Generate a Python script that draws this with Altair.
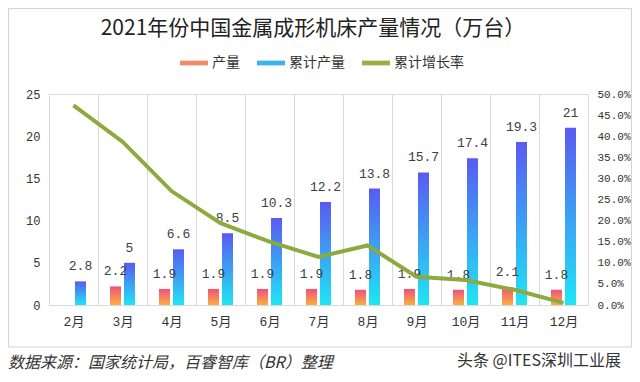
import altair as alt
import pandas as pd

# ---- data ----
months = ["2月", "3月", "4月", "5月", "6月", "7月", "8月", "9月", "10月", "11月", "12月"]
monthly = [None, 2.2, 1.9, 1.9, 1.9, 1.9, 1.8, 1.9, 1.8, 2.1, 1.8]          # 产量 (万台)
cumulative = [2.8, 5, 6.6, 8.5, 10.3, 12.2, 13.8, 15.7, 17.4, 19.3, 21]     # 累计产量 (万台)
growth = [0.473, 0.387, 0.270, 0.194, 0.150, 0.114, 0.141, 0.067, 0.059, 0.036, 0.005]  # 累计增长率
series_names = ["产量", "累计产量", "累计增长率"]
legend_colors = ["#F08A68", "#38B6EC", "#9AB044"]
left_ticks = [0, 5, 10, 15, 20, 25]
right_ticks = [0, 0.05, 0.10, 0.15, 0.20, 0.25, 0.30, 0.35, 0.40, 0.45, 0.50]

title_text = "2021年份中国金属成形机床产量情况（万台）"
source_text = "数据来源：国家统计局，百睿智库（BR）整理"
mark_text_right = "头条 @ITES深圳工业展"

rows = []
for m, a, c in zip(months, monthly, cumulative):
    if a is not None:
        rows.append({"month": m, "series": "产量", "value": a, "label": f"{a:g}"})
    rows.append({"month": m, "series": "累计产量", "value": c, "label": f"{c:g}"})
bars_df = pd.DataFrame(rows)
line_df = pd.DataFrame({"month": months, "growth": growth})
legend_df = pd.DataFrame({"series": series_names})

NUM_FONT = "Liberation Mono, Noto Sans CJK SC"
CJK_FONT = "Noto Sans CJK SC"

x_enc = alt.X(
    "month:N", sort=months,
    scale=alt.Scale(paddingInner=0, paddingOuter=0),
    axis=alt.Axis(title=None, labelAngle=0, tickBand="extent", ticks=False,
                  grid=True, gridColor="#D9D9D9", domainColor="#D9D9D9",
                  labelFont=NUM_FONT, labelFontSize=13, labelColor="#333333",
                  labelPadding=10),
)
xoff_enc = alt.XOffset(
    "series:N",
    scale=alt.Scale(domain=["产量", "累计产量"], paddingInner=0.214, paddingOuter=0.857),
)
y_left = alt.Y(
    "value:Q", scale=alt.Scale(domain=[0, 25]),
    axis=alt.Axis(title=None, values=left_ticks, ticks=False, domain=False, grid=False,
                  labelFont=NUM_FONT, labelFontSize=12, labelColor="#333333", labelPadding=9),
)

orange_grad = alt.LinearGradient(
    gradient="linear", x1=0, x2=0, y1=0, y2=1,
    stops=[alt.GradientStop(color="#F0507C", offset=0), alt.GradientStop(color="#FBB040", offset=1)],
)
blue_grad = alt.LinearGradient(
    gradient="linear", x1=0, x2=0, y1=0, y2=1,
    stops=[alt.GradientStop(color="#5A5AF2", offset=0), alt.GradientStop(color="#1EE6F5", offset=1)],
)

base_bars = alt.Chart(bars_df)
orange_bars = base_bars.transform_filter(alt.datum.series == "产量").mark_bar(color=orange_grad).encode(
    x=x_enc, xOffset=xoff_enc, y=y_left)
blue_bars = base_bars.transform_filter(alt.datum.series == "累计产量").mark_bar(color=blue_grad).encode(
    x=x_enc, xOffset=xoff_enc, y=y_left)
labels = base_bars.mark_text(baseline="bottom", dy=-8, font=NUM_FONT, fontSize=13, color="#404040").encode(
    x=x_enc, xOffset=xoff_enc, y=y_left, text="label:N")

# decorative outer frame, title and footer texts
frame = alt.Chart(pd.DataFrame({"k": [0]})).mark_rect(
    fill=None, stroke="#D4D4D4", strokeWidth=1
).encode(x=alt.value(-40.5), x2=alt.value(582.5), y=alt.value(-85.5), y2=alt.value(253))
title = alt.Chart(pd.DataFrame({"t": [title_text]})).mark_text(
    align="center", baseline="middle", font=CJK_FONT, fontSize=21, color="#222222"
).encode(x=alt.value(264), y=alt.value(-65), text="t:N")
foot_left = alt.Chart(pd.DataFrame({"t": [source_text]})).mark_text(
    align="left", baseline="middle", font=CJK_FONT, fontSize=16, fontStyle="italic", color="#333333"
).encode(x=alt.value(-41), y=alt.value(269), text="t:N")
foot_right = alt.Chart(pd.DataFrame({"t": [mark_text_right]})).mark_text(
    align="left", baseline="middle", font=CJK_FONT, fontSize=16, color="#333333"
).encode(x=alt.value(408), y=alt.value(267), text="t:N")

bars_layer = alt.layer(frame, orange_bars, blue_bars, labels, title, foot_left, foot_right)

line = alt.Chart(line_df).mark_line(color="#8EA93D", strokeWidth=4).encode(
    x=x_enc,
    y=alt.Y("growth:Q", scale=alt.Scale(domain=[0, 0.5]),
            axis=alt.Axis(title=None, orient="right", format=".1%", values=right_ticks,
                          ticks=False, domain=False, grid=False,
                          labelFont=NUM_FONT, labelFontSize=11, labelColor="#333333",
                          labelPadding=9)),
)
legend_pts = alt.Chart(legend_df).mark_point(filled=True, opacity=0).encode(
    color=alt.Color(
        "series:N",
        scale=alt.Scale(domain=series_names, range=legend_colors),
        legend=alt.Legend(
            title=None, orient="none", direction="horizontal", legendX=131, legendY=-45,
            symbolType="M-1,-0.17H1V0.17H-1Z", symbolSize=784, symbolOpacity=1,
            symbolStrokeWidth=0, labelFont=CJK_FONT, labelFontSize=14, labelColor="#333333",
            labelOffset=4, columnPadding=17, padding=0,
        ),
    )
)
line_layer = alt.layer(line, legend_pts)

chart = alt.layer(bars_layer, line_layer).resolve_scale(y="independent").properties(
    width=539, height=211,
    autosize=alt.AutoSizeParams(type="none"),
    padding={"left": 41, "top": 86, "right": 44, "bottom": 69},
).configure_view(stroke="#D9D9D9").configure(background="white")

chart.save("out.html", embed_options={"renderer": "svg", "actions": False})
